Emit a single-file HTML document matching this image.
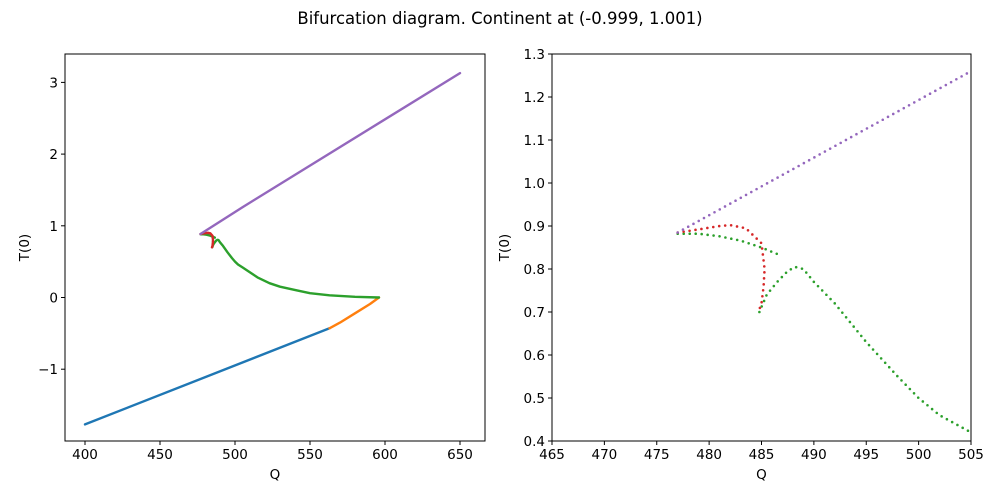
<!DOCTYPE html>
<html><head><meta charset="utf-8"><style>
html,body{margin:0;padding:0;background:#fff;width:1000px;height:500px;overflow:hidden;}
svg{display:block;}
svg text{font-family:"DejaVu Sans","Liberation Sans",sans-serif;fill:#000;}
</style></head><body>
<svg id="fig" width="1000" height="500" viewBox="0 0 1000 500">
<rect width="1000" height="500" fill="#fff"/>
<text x="500" y="24" font-size="16.5" text-anchor="middle">Bifurcation diagram. Continent at (-0.999, 1.001)</text>
<g id="left"></g>
<g id="right"></g>
</svg>
<script>
const blueQ=[400,563];const blueT=[-1.77,-0.43];
const orangeQ=[563,570,580,590,596];const orangeT=[-0.43,-0.35,-0.22,-0.09,0];
const purpleQ=[477,505,650];const purpleT=[0.885,1.26,3.13];
const redQ=[477,479,481,482,483.5,485,485.3,485.2,485.0,484.7];
const redT=[0.885,0.892,0.900,0.902,0.895,0.86,0.80,0.76,0.72,0.70];
const greenUpQ=[477,479,481,483,485,486.5];
const greenUpT=[0.882,0.882,0.876,0.866,0.85,0.835];
const greenLoQ=[484.8,485.5,486.5,487.5,488.2,489,490,492,495,498,500,502,505,510,515,523,530,541,550,563,580,596];
const greenLoT=[0.70,0.74,0.77,0.795,0.805,0.80,0.77,0.72,0.63,0.55,0.50,0.46,0.42,0.35,0.28,0.20,0.15,0.10,0.06,0.03,0.01,0];
const leftXTicks=[400,450,500,550,600,650];
const leftYTicks=[-1,0,1,2,3];
const rightXTicks=[465,470,475,480,485,490,495,500,505];
const rightYTicks=[0.4,0.5,0.6,0.7,0.8,0.9,1.0,1.1,1.2,1.3];
const C={blue:'#1f77b4',orange:'#ff7f0e',green:'#2ca02c',red:'#d62728',purple:'#9467bd'};
const NS='http://www.w3.org/2000/svg';
function mk(p,tag,a){const e=document.createElementNS(NS,tag);for(const k in a)e.setAttribute(k,a[k]);p.appendChild(e);return e;}
function panel(g,box,sx,sy,xt,yt,fmtY,series,dotted){
  const[x0,y0,x1,y1]=box;
  const clip='clip'+g.id;
  const cp=mk(mk(g,'defs',{}),'clipPath',{id:clip});mk(cp,'rect',{x:x0,y:y0,width:x1-x0,height:y1-y0});
  const sg=mk(g,'g',{'clip-path':'url(#'+clip+')'});
  series.forEach(s=>{
    const pts=s.q.map((q,i)=>sx(q).toFixed(1)+','+sy(s.t[i]).toFixed(1)).join(' ');
    const a={points:pts,fill:'none',stroke:s.c,'stroke-width':dotted?2.6:2.4,'stroke-linecap':'round','stroke-linejoin':'round'};
    if(dotted)a['stroke-dasharray']='0 6';
    const pl=mk(sg,'polyline',a);
    
    
  });
  const fr=mk(g,'rect',{x:x0,y:y0,width:x1-x0,height:y1-y0,fill:'none',stroke:'#000','stroke-width':1});
  
  xt.forEach(v=>{const x=sx(v);mk(g,'line',{x1:x,x2:x,y1:y1,y2:y1+4,stroke:'#000'});
    const t=mk(g,'text',{x:x,y:y1+18,'font-size':13.5,'text-anchor':'middle'});t.textContent=v;
    });
  yt.forEach(v=>{const y=sy(v);mk(g,'line',{x1:x0-4,x2:x0,y1:y,y2:y,stroke:'#000'});
    const t=mk(g,'text',{x:x0-7,y:y+5,'font-size':13.5,'text-anchor':'end'});t.textContent=fmtY(v);
    });
  const xl=mk(g,'text',{x:(x0+x1)/2,y:y1+38,'font-size':13.5,'text-anchor':'middle'});xl.textContent='Q';
  
  const yl=mk(g,'text',{x:0,y:0,'font-size':13.5,'text-anchor':'middle',transform:'translate('+(x0-(dotted?43:36))+','+((y0+y1)/2)+') rotate(-90)'});yl.textContent='T(0)';
  
}
const gL=document.getElementById('left');
const lsx=q=>85+(q-400)*1.5, lsy=t=>297.5-t*71.7;
panel(gL,[65,54,485,441],lsx,lsy,leftXTicks,leftYTicks,v=>v<0?'\u2212'+(-v):''+v,[
 {q:blueQ,t:blueT,c:C.blue,n:'blue-branch'},
 {q:orangeQ,t:orangeT,c:C.orange,n:'orange-branch'},
 {q:greenUpQ,t:greenUpT,c:C.green,n:'green-branch-upper'},
 {q:greenLoQ,t:greenLoT,c:C.green,n:'green-branch-lower'},
 {q:redQ,t:redT,c:C.red,n:'red-branch'},
 {q:purpleQ,t:purpleT,c:C.purple,n:'purple-branch'}],false);
const gR=document.getElementById('right');
const rsx=q=>552+(q-465)*10.475, rsy=t=>54+(1.3-t)*430;
panel(gR,[552,54,971,441],rsx,rsy,rightXTicks,rightYTicks,v=>v.toFixed(1),[
 {q:greenUpQ,t:greenUpT,c:C.green,n:'green-branch-upper'},
 {q:greenLoQ,t:greenLoT,c:C.green,n:'green-branch-lower'},
 {q:redQ,t:redT,c:C.red,n:'red-branch'},
 {q:purpleQ,t:purpleT,c:C.purple,n:'purple-branch'}],true);
</script>
</body></html>
